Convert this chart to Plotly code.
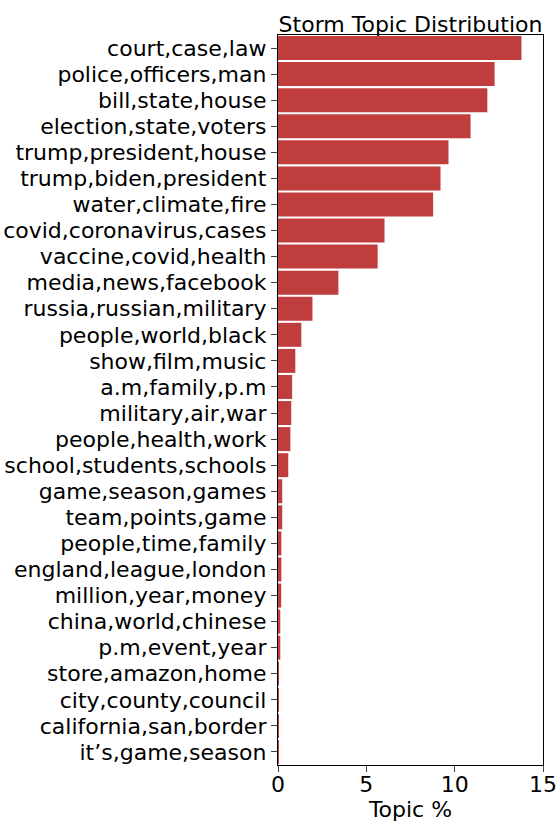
import plotly.graph_objects as go

topics = ["court,case,law", "police,officers,man", "bill,state,house", "election,state,voters",
          "trump,president,house", "trump,biden,president", "water,climate,fire",
          "covid,coronavirus,cases", "vaccine,covid,health", "media,news,facebook",
          "russia,russian,military", "people,world,black", "show,film,music", "a.m,family,p.m",
          "military,air,war", "people,health,work", "school,students,schools",
          "game,season,games", "team,points,game", "people,time,family", "england,league,london",
          "million,year,money", "china,world,chinese", "p.m,event,year", "store,amazon,home",
          "city,county,council", "california,san,border", "it’s,game,season"]
topic_pct = [13.78, 12.26, 11.85, 10.9, 9.65, 9.2, 8.78, 6.03, 5.64, 3.42, 1.95, 1.32, 0.98,
             0.8, 0.75, 0.7, 0.58, 0.24, 0.24, 0.19, 0.19, 0.18, 0.13, 0.13, 0.01, 0.01,
             0.01, 0.01]

fig = go.Figure(go.Bar(
    x=topic_pct, y=topics, orientation="h", width=0.92,
    marker=dict(color="#c03d3e", line=dict(width=0)),
))

font = "DejaVu Sans"
fs = 22
fig.update_layout(
    width=560, height=822,
    margin=dict(l=278, r=17, t=35, b=57),
    paper_bgcolor="white", plot_bgcolor="white",
    showlegend=False,
    title=dict(text="Storm Topic Distribution", x=0.5, xanchor="center", xref="paper",
               y=1, yref="paper", yanchor="bottom", pad=dict(b=3),
               font=dict(family=font, size=fs, color="black")),
    font=dict(family=font, size=fs, color="black"),
)
fig.update_xaxes(
    range=[0, 15], tickvals=[0, 5, 10, 15], ticks="outside", ticklen=6, tickwidth=1.3,
    showline=True, linecolor="black", linewidth=1.3, mirror=True, showgrid=False,
    zeroline=False, automargin=False, ticklabelstandoff=-7,
    title=dict(text="Topic %", font=dict(family=font, size=fs), standoff=2),
    tickfont=dict(family=font, size=fs),
)
fig.update_yaxes(
    autorange="reversed", ticks="outside", ticklen=6, tickwidth=1.3,
    showline=True, linecolor="black", linewidth=1.3, mirror=True, showgrid=False,
    automargin=False,
    tickfont=dict(family=font, size=fs), ticklabelstandoff=0,
)
fig.write_html("out.html", config={"displayModeBar": False},
               post_script="document.body.style.margin='0';document.body.style.overflow='hidden';")
